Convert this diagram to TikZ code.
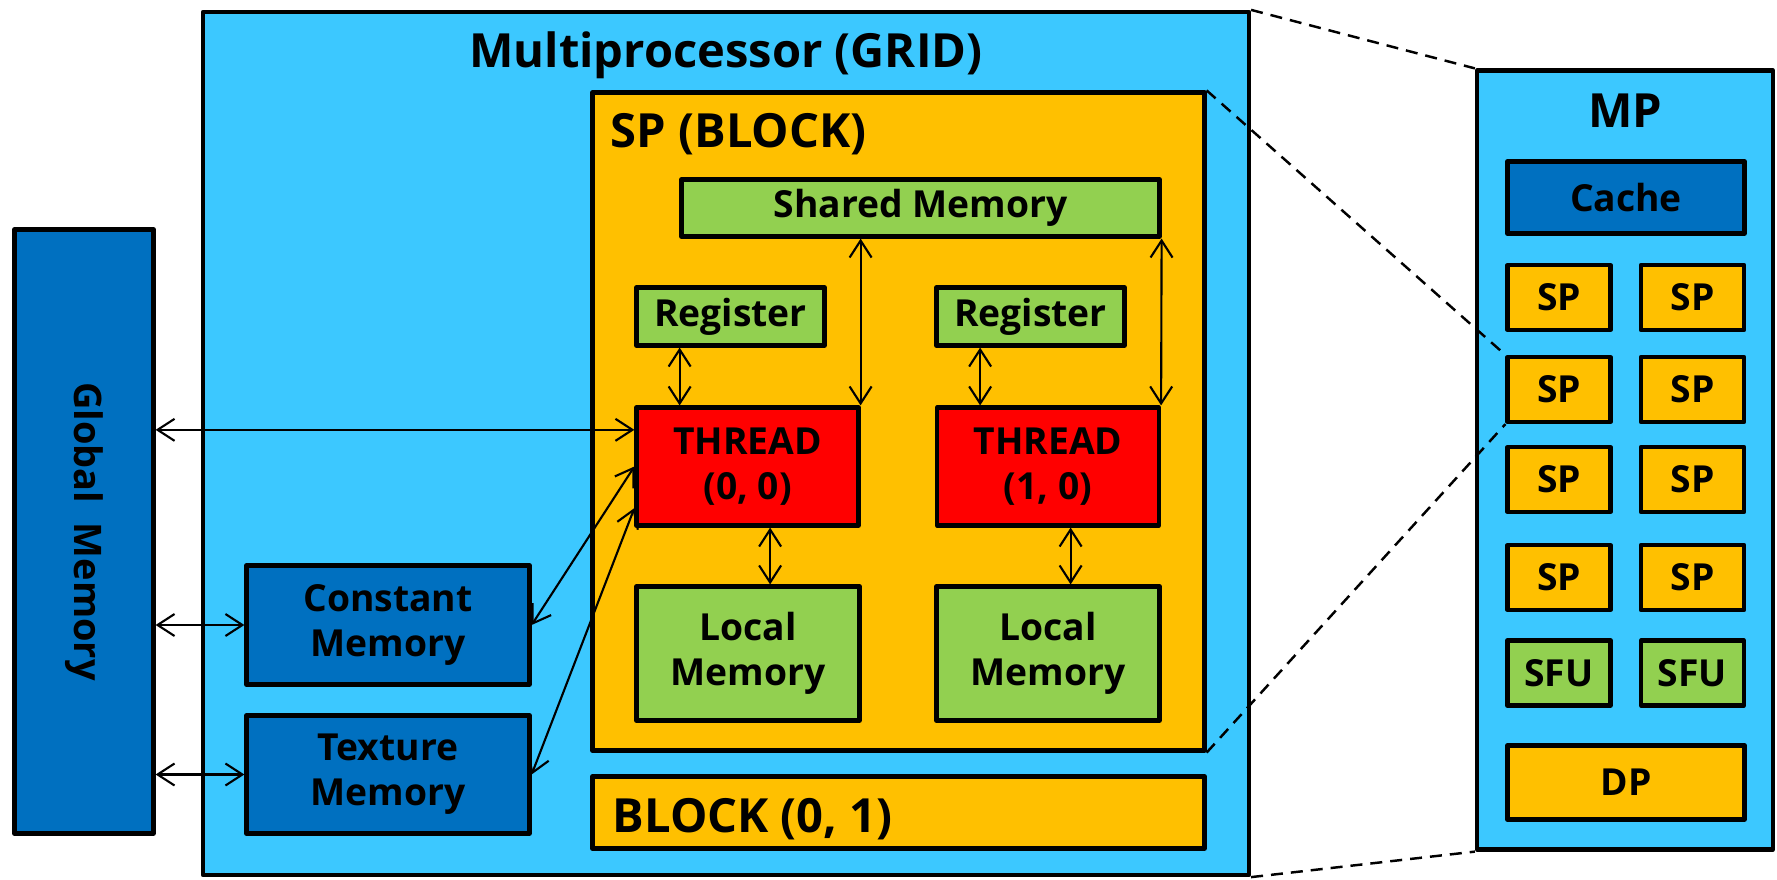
\documentclass[tikz,border=0pt]{standalone}
\usepackage{fontspec}
\setmainfont{Open Sans}
\usepackage{tikz}
\usetikzlibrary{arrows.meta,calc,positioning}
\definecolor{gridblue}{RGB}{60,200,255}
\definecolor{memblue}{RGB}{0,112,192}
\definecolor{blockgold}{RGB}{255,192,0}
\definecolor{memgreen}{RGB}{146,208,80}
\definecolor{threadred}{RGB}{255,0,0}

\begin{document}
\begin{tikzpicture}[
  font=\fontsize{10.6}{12.8}\selectfont\bfseries,
  every node/.style={align=center},
  unit/.style={draw=black,line width=1.2pt,inner sep=0pt,line join=round},
  gridbox/.style={unit,fill=gridblue},
  membox/.style={unit,fill=memblue},
  goldbox/.style={unit,fill=blockgold},
  greenbox/.style={unit,fill=memgreen},
  threadbox/.style={unit,fill=threadred},
  heading/.style={font=\fontsize{13.4}{15}\selectfont\bfseries,inner sep=0pt},
  link/.style={{Straight Barb[length=1.7mm,width=2.2mm]}-{Straight Barb[length=1.7mm,width=2.2mm]},
               line width=0.6pt},
  zoomline/.style={line width=0.7pt,dash pattern=on 1.2mm off 0.8mm}
]
\useasboundingbox (0,0) rectangle (17.77,8.79);

% Global memory (left)
\node[membox,minimum width=1.39cm,minimum height=6.04cm] (glob) at (0.84,3.475) {};
\node[rotate=-90,font=\fontsize{10.8}{12}\selectfont\bfseries] (globlbl) at (glob.center)
  {Global\ \ Memory};

% Grid
\node[gridbox,minimum width=10.46cm,minimum height=8.63cm] (grid) at (7.26,4.355) {};
\node[heading,anchor=base] (gridlbl) at (7.26,8.12) {Multiprocessor (GRID)};

% --- Block with its threads ---
\node[goldbox,minimum width=6.12cm,minimum height=6.58cm] (spb) at (8.985,4.575) {};
\node[heading,anchor=base west] (spblbl) at (6.10,7.32) {SP (BLOCK)};

\node[greenbox,minimum width=4.78cm,minimum height=0.57cm] (shm) at (9.205,6.71)
  {Shared Memory};

\node[greenbox,minimum width=1.88cm,minimum height=0.58cm] (reg1) at (7.305,5.625) {Register};
\node[greenbox,minimum width=1.88cm,minimum height=0.58cm] (reg2) at (10.305,5.625) {Register};

\node[threadbox,minimum width=2.22cm,minimum height=1.18cm] (th1) at (7.475,4.125)
  {THREAD\\(0, 0)};
\node[threadbox,minimum width=2.22cm,minimum height=1.18cm] (th2) at (10.48,4.125)
  {THREAD\\(1, 0)};

\node[greenbox,minimum width=2.23cm,minimum height=1.34cm] (lm1) at (7.48,2.255)
  {Local\\Memory};
\node[greenbox,minimum width=2.23cm,minimum height=1.34cm] (lm2) at (10.48,2.255)
  {Local\\Memory};

% Second block
\node[goldbox,minimum width=6.12cm,minimum height=0.72cm] (blk) at (8.985,0.665) {};
\node[heading,anchor=base west] (blklbl) at (6.12,0.47) {BLOCK (0, 1)};

% Constant / texture memory
\node[membox,minimum width=2.83cm,minimum height=1.19cm] (cmem) at (3.88,2.54)
  {Constant\\Memory};
\node[membox,minimum width=2.83cm,minimum height=1.18cm] (tmem) at (3.88,1.045)
  {Texture\\Memory};

% --- Multiprocessor detail (right) ---
\node[gridbox,minimum width=2.96cm,minimum height=7.79cm] (mp) at (16.25,4.19) {};
\node[heading,anchor=base] (mplbl) at (16.25,7.52) {MP};

\node[membox,minimum width=2.37cm,minimum height=0.72cm] (cache) at (16.26,6.815) {Cache};

\node[goldbox,minimum width=1.03cm,minimum height=0.65cm] (sp1) at (15.59,5.815) {SP};
\node[goldbox,minimum width=1.03cm,minimum height=0.65cm] (sp2) at (16.925,5.815) {SP};
\node[goldbox,minimum width=1.03cm,minimum height=0.65cm] (sp3) at (15.59,4.895) {SP};
\node[goldbox,minimum width=1.03cm,minimum height=0.65cm] (sp4) at (16.925,4.895) {SP};
\node[goldbox,minimum width=1.03cm,minimum height=0.65cm] (sp5) at (15.59,3.995) {SP};
\node[goldbox,minimum width=1.03cm,minimum height=0.65cm] (sp6) at (16.925,3.995) {SP};
\node[goldbox,minimum width=1.03cm,minimum height=0.65cm] (sp7) at (15.59,3.015) {SP};
\node[goldbox,minimum width=1.03cm,minimum height=0.65cm] (sp8) at (16.925,3.015) {SP};
\node[greenbox,minimum width=1.03cm,minimum height=0.65cm] (sfu1) at (15.59,2.06) {SFU};
\node[greenbox,minimum width=1.03cm,minimum height=0.65cm] (sfu2) at (16.925,2.06) {SFU};

\node[goldbox,minimum width=2.37cm,minimum height=0.74cm] (dp) at (16.26,0.965) {DP};

% --- Access paths ---
\coordinate (t1glob) at ($(th1.north west)!0.2!(th1.south west)$);
\coordinate (t1tex) at ($(th1.north west)!0.84!(th1.south west)$);
\coordinate (t1reg) at ($(th1.north west)!0.2!(th1.north east)$);
\coordinate (t2reg) at ($(th2.north west)!0.2!(th2.north east)$);
\coordinate (t1loc) at ($(th1.south west)!0.6!(th1.south east)$);
\coordinate (t2loc) at ($(th2.south west)!0.6!(th2.south east)$);

\draw[link] (glob.east |- t1glob) -- (t1glob);
\draw[link] (glob.east |- cmem.west) -- (cmem.west);
\draw[link] (glob.east |- tmem.west) -- (tmem.west);
\draw[link] (cmem.east) -- (th1.west);
\draw[link] (tmem.east) -- (t1tex);
\draw[link] (reg1.south -| t1reg) -- (t1reg);
\draw[link] (reg2.south -| t2reg) -- (t2reg);
\draw[link] (shm.south -| th1.north east) -- (th1.north east);
\draw[link] (shm.south east) -- (th2.north east);
\draw[link] (t1loc) -- (lm1.north -| t1loc);
\draw[link] (t2loc) -- (lm2.north -| t2loc);

% --- Zoom lines ---
\draw[zoomline] (grid.north east) -- (mp.north west);
\draw[zoomline] (grid.south east) -- (mp.south west);
\draw[zoomline] (spb.north east) -- (sp3.north west);
\draw[zoomline] (spb.south east) -- (sp3.south west);
\end{tikzpicture}
\end{document}
